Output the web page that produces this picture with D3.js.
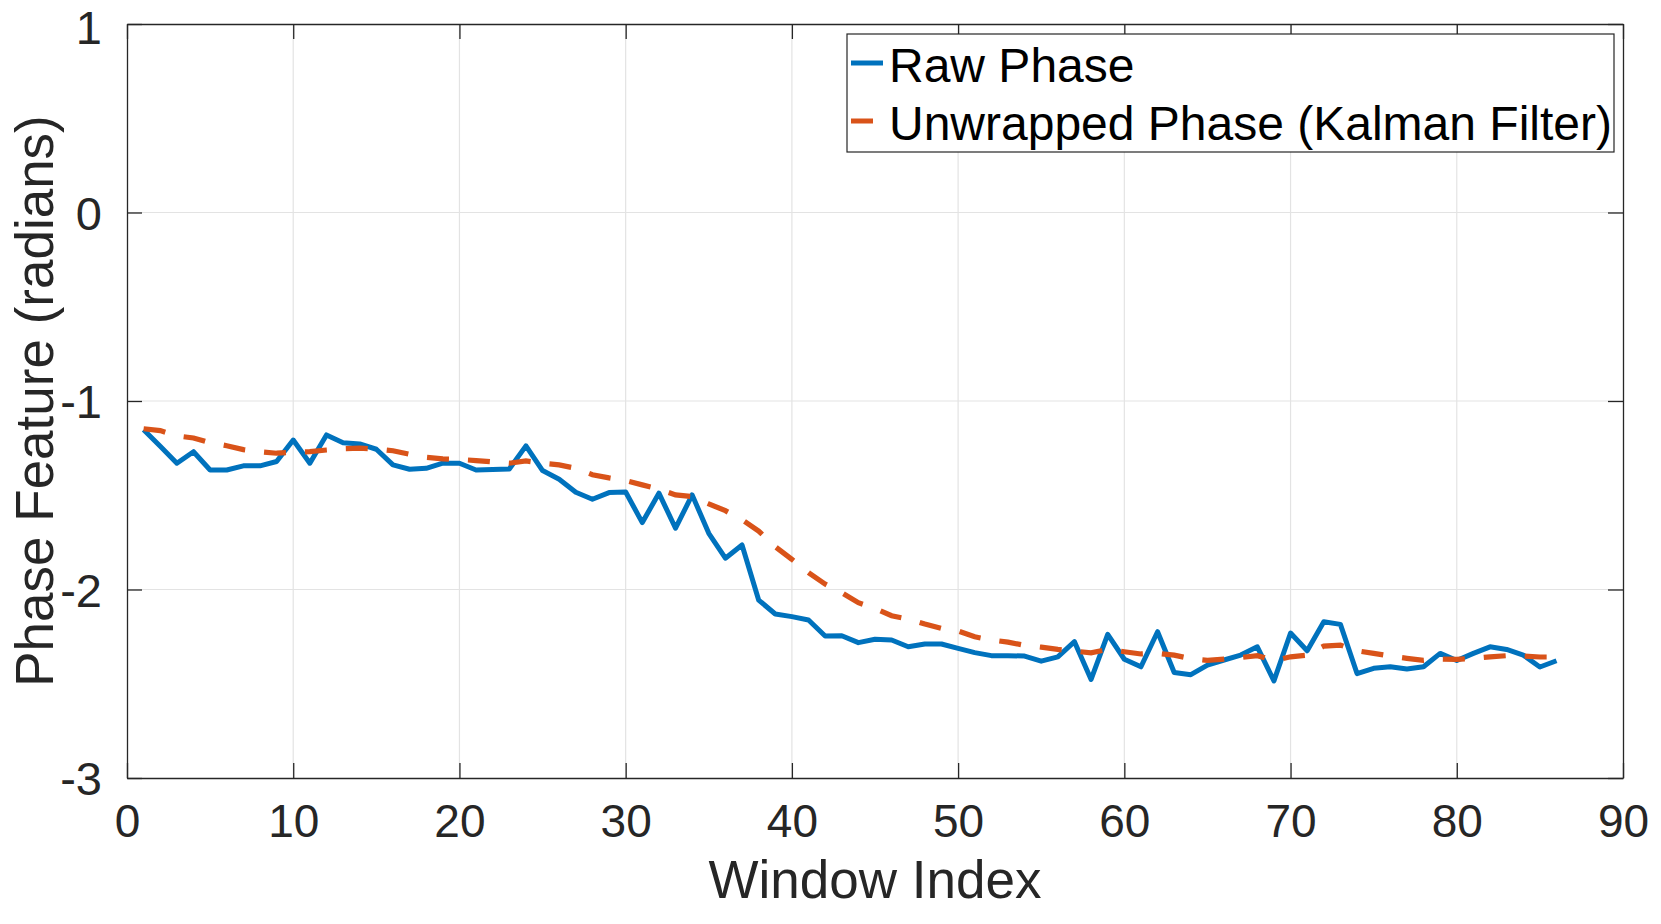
<!DOCTYPE html>
<meta charset="UTF-8">
<head>
<script src="https://cdnjs.cloudflare.com/ajax/libs/d3/7.8.5/d3.min.js"></script>
</head>
<style>
body { margin: 0; background: #fff; }
svg text { font-family: "Liberation Sans", Arial, Helvetica, sans-serif; fill: #262626; }
.grid line { stroke: #e3e3e3; stroke-width: 1.2px; }
.axis path, .axis line { stroke: #262626; }
</style>
<body>
<div id="chart"></div>
<script>

// window index 1..86
var windowIndex = d3.range(1, 87);

var rawPhase = [
  -1.153, -1.240, -1.330, -1.269, -1.366, -1.366, -1.344, -1.344, -1.321, -1.207,
  -1.330, -1.180, -1.221, -1.228, -1.256, -1.339, -1.362, -1.357, -1.330, -1.330,
  -1.366, -1.364, -1.361, -1.238, -1.369, -1.415, -1.484, -1.521, -1.486, -1.483,
  -1.645, -1.489, -1.675, -1.498, -1.702, -1.834, -1.764, -2.056, -2.130, -2.144,
  -2.162, -2.247, -2.245, -2.282, -2.264, -2.268, -2.304, -2.289, -2.289, -2.312,
  -2.335, -2.351, -2.351, -2.353, -2.380, -2.357, -2.277, -2.477, -2.238, -2.370,
  -2.410, -2.224, -2.440, -2.452, -2.401, -2.374, -2.348, -2.304, -2.485, -2.231,
  -2.325, -2.171, -2.185, -2.446, -2.418, -2.410, -2.422, -2.410, -2.339, -2.377,
  -2.339, -2.304, -2.318, -2.348, -2.411, -2.378
];

var kalmanPhase = [
  -1.147, -1.157, -1.185, -1.196, -1.221, -1.237, -1.258, -1.269, -1.277, -1.272,
  -1.269, -1.260, -1.253, -1.250, -1.255, -1.264, -1.283, -1.299, -1.307, -1.310,
  -1.316, -1.323, -1.330, -1.318, -1.330, -1.339, -1.357, -1.391, -1.408, -1.422,
  -1.445, -1.467, -1.498, -1.507, -1.546, -1.582, -1.630, -1.690, -1.773, -1.840,
  -1.911, -1.971, -2.017, -2.070, -2.100, -2.139, -2.157, -2.183, -2.206, -2.220,
  -2.251, -2.268, -2.279, -2.296, -2.306, -2.318, -2.327, -2.336, -2.318, -2.330,
  -2.342, -2.339, -2.348, -2.367, -2.376, -2.369, -2.361, -2.351, -2.377, -2.357,
  -2.348, -2.300, -2.295, -2.325, -2.339, -2.353, -2.365, -2.376, -2.369, -2.371,
  -2.365, -2.357, -2.351, -2.353, -2.358, -2.358
];

var xTicks = [0, 10, 20, 30, 40, 50, 60, 70, 80, 90];
var yTicks = [-3, -2, -1, 0, 1];
var seriesNames = ["Raw Phase", "Unwrapped Phase (Kalman Filter)"];
var seriesColors = ["#0072BD", "#D95319"];

var W = 1661, H = 924;
var margin = {top: 24, right: 38, bottom: 146, left: 127};
var width = W - margin.left - margin.right,
    height = H - margin.top - margin.bottom;

var svg = d3.select("#chart").append("svg")
    .attr("width", W)
    .attr("height", H)
  .append("g")
    .attr("transform", "translate(" + margin.left + "," + margin.top + ")");

var x = d3.scaleLinear().domain([0, 90]).range([0, width]);
var y = d3.scaleLinear().domain([-3, 1]).range([height, 0]);

// plain hyphen for negatives, like the original
var fmt = function(d) { return String(d); };

// grid
svg.append("g").attr("class", "grid")
  .selectAll("line.v").data(xTicks.slice(1, -1)).enter().append("line")
    .attr("x1", function(d) { return x(d); }).attr("x2", function(d) { return x(d); })
    .attr("y1", 0).attr("y2", height);
svg.append("g").attr("class", "grid")
  .selectAll("line.h").data(yTicks.slice(1, -1)).enter().append("line")
    .attr("y1", function(d) { return y(d); }).attr("y2", function(d) { return y(d); })
    .attr("x1", 0).attr("x2", width);

// axes (ticks point inward, box all round)
var tickLen = 15;
svg.append("g").attr("class", "axis")
    .attr("transform", "translate(0," + height + ")")
    .call(d3.axisBottom(x).tickValues(xTicks).tickFormat(fmt).tickSizeInner(-tickLen).tickSizeOuter(0).tickPadding(26))
    .call(function(g) { g.selectAll("text").style("font-size", "46px").attr("dy", "0.71em"); });
svg.append("g").attr("class", "axis")
    .call(d3.axisTop(x).tickValues(xTicks).tickSizeInner(-tickLen).tickSizeOuter(0).tickFormat(""));
svg.append("g").attr("class", "axis")
    .call(d3.axisLeft(y).tickValues(yTicks).tickFormat(fmt).tickSizeInner(-tickLen).tickSizeOuter(0).tickPadding(25))
    .call(function(g) {
      g.selectAll("text").style("font-size", "47px")
        .attr("dy", function(d) { return d === 1 ? "0.41em" : "0.36em"; });
    });
svg.append("g").attr("class", "axis")
    .attr("transform", "translate(" + width + ",0)")
    .call(d3.axisRight(y).tickValues(yTicks).tickSizeInner(-tickLen).tickSizeOuter(0).tickFormat(""));
svg.selectAll(".axis path").attr("stroke-width", 1.3);
svg.selectAll(".axis .tick line").attr("stroke-width", 1.3);

// lines
var line = d3.line()
    .x(function(d, i) { return x(windowIndex[i]); })
    .y(function(d) { return y(d); });

svg.append("path").datum(rawPhase)
    .attr("fill", "none")
    .attr("stroke", seriesColors[0])
    .attr("stroke-width", 5)
    .attr("stroke-linejoin", "round")
    .attr("d", line);

svg.append("path").datum(kalmanPhase)
    .attr("fill", "none")
    .attr("stroke", seriesColors[1])
    .attr("stroke-width", 5.2)
    .attr("stroke-dasharray", "22,19")
    .attr("d", line);

// axis titles
svg.append("text")
    .attr("x", width / 2).attr("y", 898 - margin.top)
    .attr("text-anchor", "middle")
    .style("font-size", "53px")
    .text("Window Index");

svg.append("text")
    .attr("transform", "translate(" + (53 - margin.left) + "," + (height / 2) + ") rotate(-90)")
    .attr("text-anchor", "middle")
    .style("font-size", "53px")
    .text("Phase Feature (radians)");

// legend
var legend = svg.append("g").attr("transform", "translate(" + (847 - margin.left) + "," + (34 - margin.top) + ")");
legend.append("rect")
    .attr("width", 767).attr("height", 118)
    .attr("fill", "#fff").attr("stroke", "#262626").attr("stroke-width", 1.2);
var rows = [
  {name: seriesNames[0], color: seriesColors[0], len: 32, y: 29},
  {name: seriesNames[1], color: seriesColors[1], len: 22, y: 87}
];
rows.forEach(function(r) {
  legend.append("line")
      .attr("x1", 4).attr("x2", 4 + r.len)
      .attr("y1", r.y).attr("y2", r.y)
      .attr("stroke", r.color).attr("stroke-width", 5);
  legend.append("text")
      .attr("x", 42).attr("y", r.y + 19)
      .style("font-size", "48px")
      .style("fill", "#000")
      .text(r.name);
});

</script>
</body>
